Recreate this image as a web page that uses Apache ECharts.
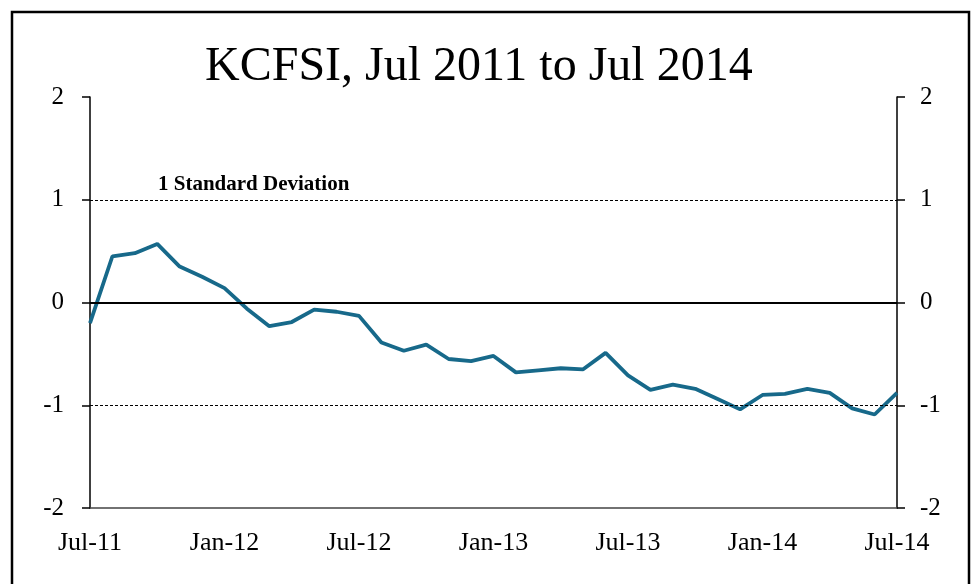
<!DOCTYPE html>
<html>
<head>
    <meta charset="utf-8">
    <title>KCFSI</title>
    <script src="https://cdn.jsdelivr.net/npm/echarts@6/dist/echarts.min.js"></script>
    <style>
        html, body { margin: 0; padding: 0; background: #fff; }
        #chart1 { width: 974px; height: 584px; }
    </style>
</head>
<body>
<div id="chart1"></div>
<script>
    // 月份
    var months = ['Jul-11','Aug-11','Sep-11','Oct-11','Nov-11','Dec-11',
        'Jan-12','Feb-12','Mar-12','Apr-12','May-12','Jun-12',
        'Jul-12','Aug-12','Sep-12','Oct-12','Nov-12','Dec-12',
        'Jan-13','Feb-13','Mar-13','Apr-13','May-13','Jun-13',
        'Jul-13','Aug-13','Sep-13','Oct-13','Nov-13','Dec-13',
        'Jan-14','Feb-14','Mar-14','Apr-14','May-14','Jun-14',
        'Jul-14'];
    // KCFSI 数值
    var kcfsi = [-0.20, 0.45, 0.48, 0.57, 0.35, 0.25,
        0.14, -0.06, -0.23, -0.19, -0.07, -0.09,
        -0.13, -0.39, -0.47, -0.41, -0.55, -0.57,
        -0.52, -0.68, -0.66, -0.64, -0.65, -0.49,
        -0.71, -0.85, -0.80, -0.84, -0.94, -1.04,
        -0.90, -0.89, -0.84, -0.88, -1.03, -1.09,
        -0.88];
    var yTicks = [-2, -1, 0, 1, 2];
    var sdLabel = '1 Standard Deviation';

    var serif = '"Liberation Serif", "Times New Roman", serif';

    var myChart = echarts.init(document.getElementById('chart1'));

    function yAxisOpt(pos, margin) {
        return {
            type: 'value',
            position: pos,
            min: yTicks[0],
            max: yTicks[yTicks.length - 1],
            interval: 1,
            axisLine: { show: true, lineStyle: { color: '#000', width: 1.5 } },
            axisTick: { show: true, inside: false, length: 8, lineStyle: { color: '#000', width: 1.5 } },
            axisLabel: { color: '#000', fontFamily: serif, fontSize: 25, margin: margin },
            splitLine: { show: false }
        };
    }

    var option = {
        animation: false,
        title: {
            text: 'KCFSI, Jul 2011 to Jul 2014',
            left: 200,
            top: 38,
            textStyle: { color: '#000', fontFamily: serif, fontSize: 48, fontWeight: 'normal' }
        },
        grid: { left: 90, right: 77, top: 97, bottom: 76 },
        xAxis: {
            type: 'category',
            data: months,
            boundaryGap: false,
            axisLine: { show: true, onZero: false, lineStyle: { color: '#444', width: 1.5 } },
            axisTick: { show: false },
            axisLabel: { color: '#000', fontFamily: serif, fontSize: 26, margin: 22, interval: 5 }
        },
        yAxis: [yAxisOpt('left', 26), yAxisOpt('right', 23)],
        graphic: [
            {
                type: 'rect',
                shape: { x: 12, y: 12, width: 957, height: 600 },
                style: { fill: 'none', stroke: '#000', lineWidth: 2.5 },
                silent: true
            },
            {
                type: 'text',
                left: 158,
                top: 174,
                style: { text: sdLabel, fill: '#000', font: 'bold 21px ' + serif }
            }
        ],
        series: [{
            name: 'KCFSI',
            type: 'line',
            data: kcfsi,
            symbol: 'none',
            lineStyle: { color: '#17698a', width: 3.8 },
            z: 3,
            markLine: {
                silent: true,
                symbol: 'none',
                label: { show: false },
                data: [
                    { yAxis: 0, lineStyle: { color: '#000', width: 2, type: 'solid' } },
                    { yAxis: 1, lineStyle: { color: '#000', width: 1, type: [3, 2] } },
                    { yAxis: -1, lineStyle: { color: '#000', width: 1, type: [3, 2] } }
                ]
            }
        }]
    };

    myChart.setOption(option);
</script>
</body>
</html>
